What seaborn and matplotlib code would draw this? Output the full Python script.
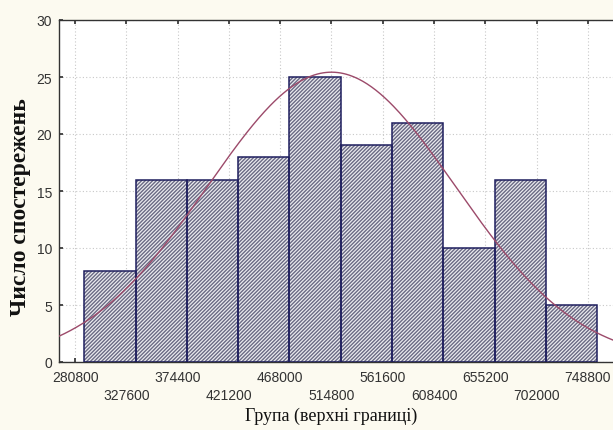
import numpy as np
import pandas as pd
import matplotlib
matplotlib.use("Agg")
import matplotlib.pyplot as plt
import seaborn as sns

# ---- data ----
upper_bounds = [280800, 327600, 374400, 421200, 468000, 514800,
                561600, 608400, 655200, 702000, 748800]
counts = [8, 16, 16, 18, 25, 19, 21, 10, 16, 5]
fit_mean = 514800
fit_sd = 113100
n_obs = sum(counts)
bin_width = 46800

x_label = "Група (верхні границі)"
y_label = "Число спостережень"

# ---- style ----
sns.set_theme(style="white")
plt.rcParams["hatch.linewidth"] = 1.0
bar_shift = 0.18 * bin_width   # bars drawn slightly right of the tick grid

fig = plt.figure(figsize=(6.13, 4.31), dpi=100, facecolor="#fcfaf0")
ax = fig.add_axes([59/613, (431-363)/431, (613-59)/613 + 0.01, (363-21)/431])
ax.set_facecolor("white")

edges = [float(v) + bar_shift for v in upper_bounds]
centers = [(edges[i] + edges[i + 1]) / 2 for i in range(len(counts))]
df = pd.DataFrame({"x": centers, "w": counts})
# hatched fill
sns.histplot(data=df, x="x", weights="w", bins=edges, ax=ax,
             stat="count", color="#ececf0", edgecolor="#6a6a84",
             linewidth=0, alpha=1.0, hatch="/////////", zorder=2)
# navy outlines
sns.histplot(data=df, x="x", weights="w", bins=edges, ax=ax,
             stat="count", fill=False, color="#1e1e5e",
             linewidth=1.1, zorder=3)

# fitted normal curve
xs = np.linspace(255000, 790000, 400)
ys = n_obs * bin_width * np.exp(-0.5 * ((xs - fit_mean) / fit_sd) ** 2) / (fit_sd * np.sqrt(2 * np.pi))
sns.lineplot(x=xs, y=ys, ax=ax, color="#9c4a6a", linewidth=1.0, zorder=4)

ax.set_xlim(266030, 777400)
ax.set_ylim(0, 30)
ax.set_xticks(upper_bounds)
ax.set_xticklabels([str(v) if i % 2 == 0 else "\n" + str(v) for i, v in enumerate(upper_bounds)],
                   fontsize=10, color="#333333", family="Liberation Sans")
ax.set_yticks([0, 5, 10, 15, 20, 25, 30])
ax.set_yticklabels(["0", "5", "10", "15", "20", "25", "30"],
                   fontsize=10, color="#333333", family="Liberation Sans")
ax.tick_params(axis="x", direction="in", length=3, top=True, bottom=True, pad=6, color="#333333")
ax.tick_params(axis="y", direction="in", length=3, left=True, pad=5, color="#333333")
for lbl in ax.get_xticklabels():
    lbl.set_linespacing(1.3)

ax.grid(True, color="#c8c8c8", linestyle=(0, (1, 2)), linewidth=0.8, zorder=0)
ax.set_axisbelow(True)
for s in ["left", "bottom", "top"]:
    ax.spines[s].set_color("#333333")
    ax.spines[s].set_linewidth(1.0)
ax.spines["right"].set_visible(False)

ax.set_xlabel(x_label, fontsize=13, family="Liberation Serif", color="#111111")
ax.set_ylabel(y_label, fontsize=17, family="Liberation Serif", fontweight="bold", color="#111111")
ax.xaxis.set_label_coords(0.486, -0.132)
ax.yaxis.set_label_coords(-0.05, 0.455)

fig.savefig("out.png", dpi=100, facecolor=fig.get_facecolor())
